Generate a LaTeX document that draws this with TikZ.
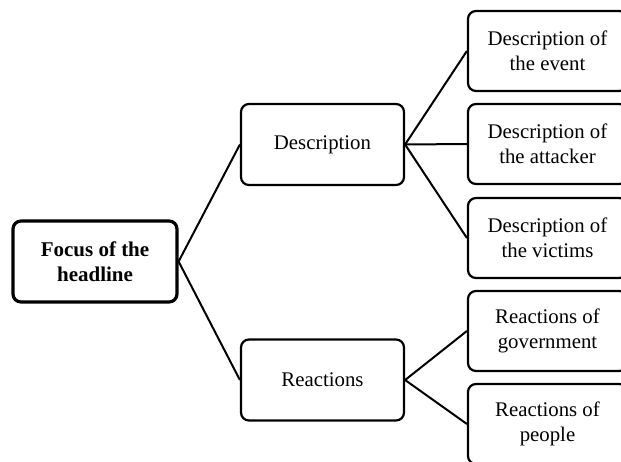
\documentclass[tikz,border=0pt]{standalone}
\usepackage{fontspec}
\setmainfont{Liberation Serif}
\begin{document}
\begin{tikzpicture}[x=1pt,y=-1pt,
  box/.style={draw=black, line width=2.2pt, rounded corners=8pt, align=center,
    inner sep=0pt, font=\fontsize{20.8}{25}\selectfont},
  rootbox/.style={box, line width=3.2pt, font=\fontsize{21}{25}\selectfont\bfseries,
    minimum width=164pt, minimum height=81pt},
  midbox/.style={box, minimum width=163pt, minimum height=81pt},
  leafbox/.style={box, minimum width=159pt, minimum height=80pt},
  conn/.style={line width=2pt}]
\useasboundingbox (0,0) rectangle (621,461);
\clip (0,0) rectangle (621,461);
\node[rootbox] (root) at (95,261.5) {Focus of the\\headline};
\node[midbox] (desc) at (322.5,144.5) {Description};
\node[midbox] (reac) at (322.5,380) {Reactions};
\node[leafbox] (l1) at (547.5,51) {Description of\\the event};
\node[leafbox] (l2) at (547.5,144) {Description of\\the attacker};
\node[leafbox] (l3) at (547.5,238) {Description of\\the victims};
\node[leafbox] (l4) at (547.5,331) {Reactions of\\government};
\node[leafbox] (l5) at (547.5,424) {Reactions of\\people};
\draw[conn] (root.east) -- (desc.west);
\draw[conn] (root.east) -- (reac.west);
\draw[conn] (desc.east) -- (l1.west);
\draw[conn] (desc.east) -- (l2.west);
\draw[conn] (desc.east) -- (l3.west);
\draw[conn] (reac.east) -- (l4.west);
\draw[conn] (reac.east) -- (l5.west);
\end{tikzpicture}
\end{document}
